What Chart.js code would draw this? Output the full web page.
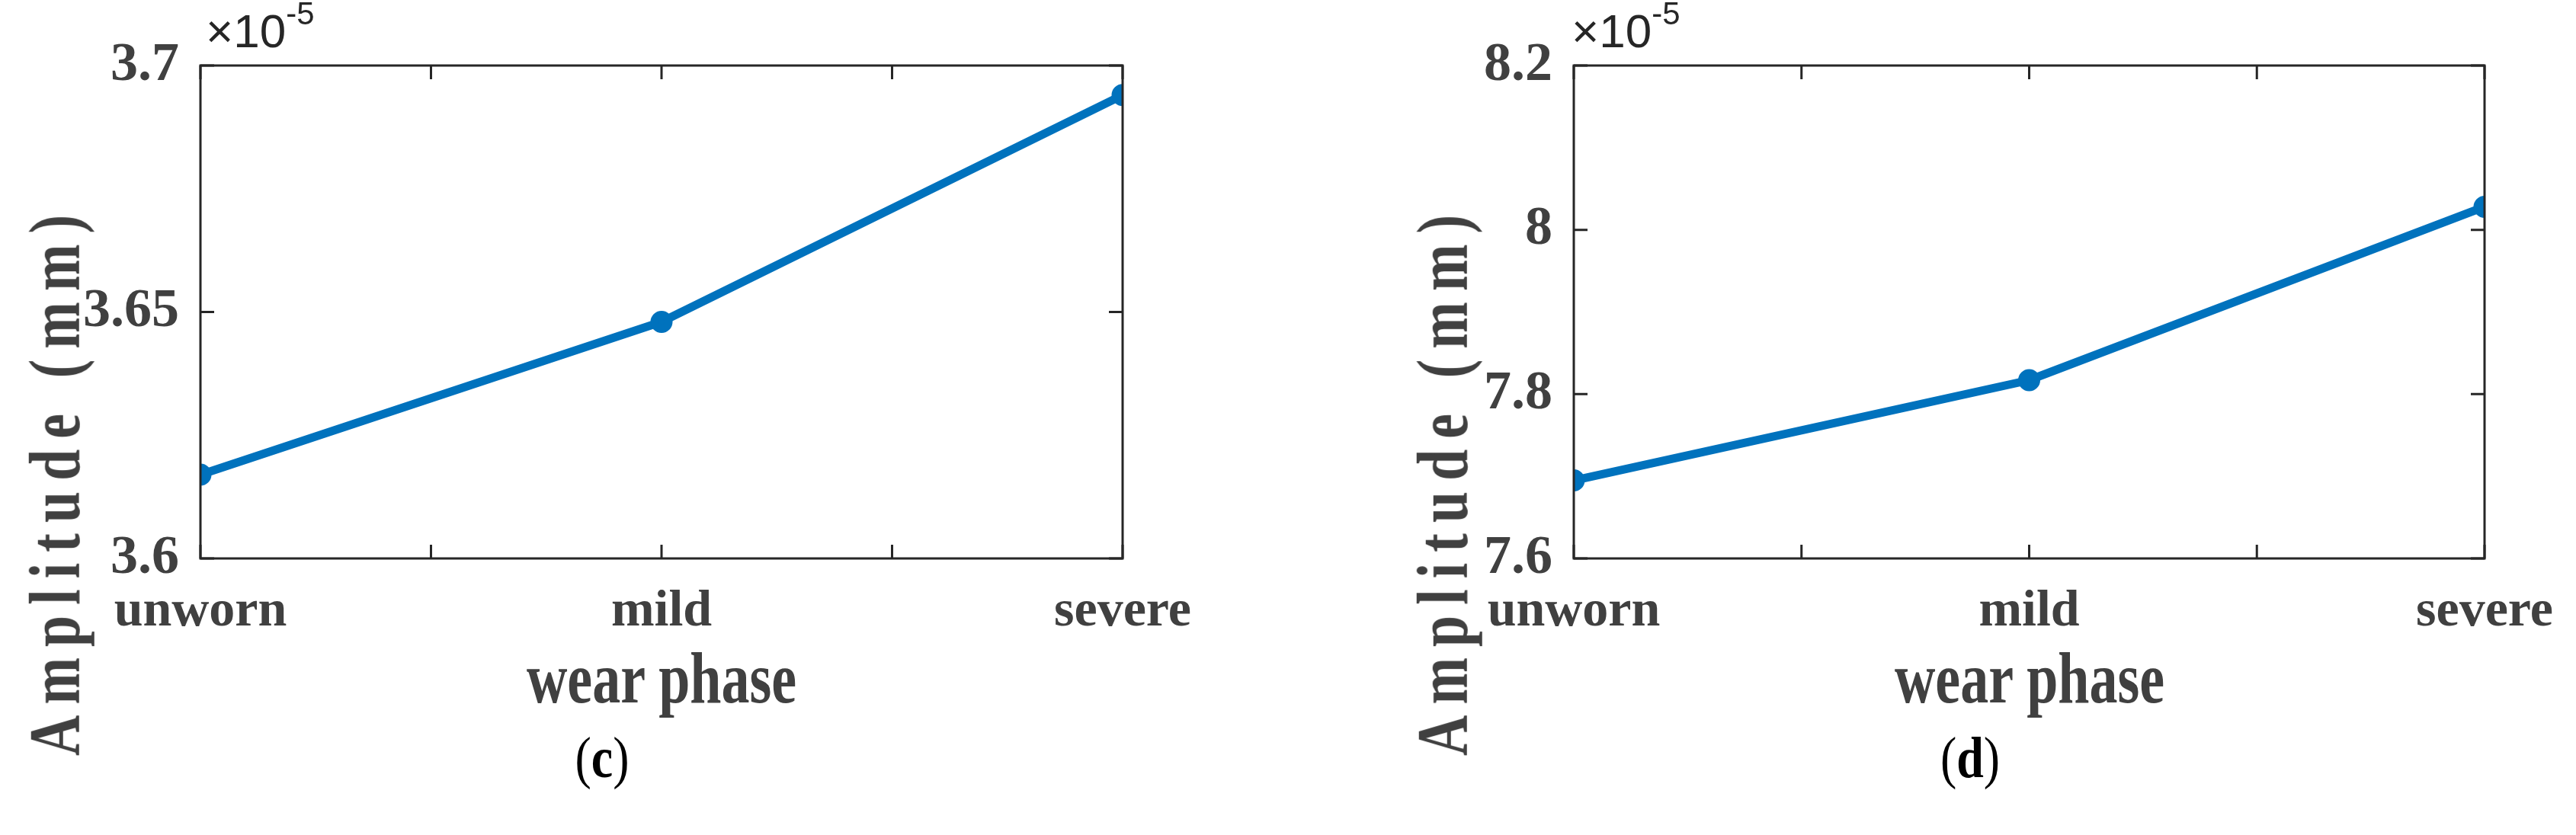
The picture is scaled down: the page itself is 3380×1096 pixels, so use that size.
<!DOCTYPE html><html><head><meta charset="utf-8">
<script src="https://cdn.jsdelivr.net/npm/chart.js@4"></script>
<style>
body{margin:0;background:#fff;width:3380px;height:1096px;position:relative;overflow:hidden;font-family:"Liberation Serif",serif;color:#404040}
canvas{position:absolute;top:0}
.t{position:absolute;font-weight:bold;font-size:74px;white-space:nowrap;transform:translate(-50%,-50%) scaleY(1.3)}
.yt{transform:translate(-50%,-50%) rotate(-90deg) scaleY(1.3);letter-spacing:14px}
.ex{position:absolute;font-family:"Liberation Sans",sans-serif;font-size:62px;color:#262626;white-space:nowrap}
.cap{position:absolute;font-size:64px;color:#000;transform:translate(-50%,-50%) scaleY(1.2)}
</style></head><body>
<div id="w1" style="position:absolute;left:0;top:0;width:1690px;height:1096px"><canvas id="c1"></canvas></div>
<div id="w2" style="position:absolute;left:1690px;top:0;width:1690px;height:1096px"><canvas id="c2"></canvas></div>
<div class="t yt" style="left:72px;top:630px">Amplitude (mm)</div>
<div class="t yt" style="left:1893px;top:630px">Amplitude (mm)</div>
<div class="t" style="left:868px;top:890px">wear phase</div>
<div class="t" style="left:2663px;top:890px">wear phase</div>
<div class="ex" style="left:270px;top:2px">×10<sup style="font-size:42px;position:relative;top:-8px">-5</sup></div>
<div class="ex" style="left:2062px;top:2px">×10<sup style="font-size:42px;position:relative;top:-8px">-5</sup></div>
<div class="cap" style="left:790px;top:995px">(<b>c</b>)</div>
<div class="cap" style="left:2585px;top:995px">(<b>d</b>)</div>
<script>
const categories=['unworn','mild','severe'];
const seriesC=[3.617,3.648,3.694];
const seriesD=[7.695,7.817,8.028];
const yTicksC=[3.6,3.65,3.7];
const yTicksD=[7.6,7.8,8.0,8.2];
const xTickPos=[0,0.5,1,1.5,2];

const inTicks={id:'inTicks',afterDraw(ch){const {ctx,chartArea:a,scales:{x,y}}=ch;ctx.save();ctx.strokeStyle='#262626';ctx.lineWidth=3;
ctx.strokeRect(a.left,a.top,a.right-a.left,a.bottom-a.top);const L=18;ctx.beginPath();
xTickPos.forEach(v=>{const px=x.getPixelForValue(v);ctx.moveTo(px,a.bottom);ctx.lineTo(px,a.bottom-L);ctx.moveTo(px,a.top);ctx.lineTo(px,a.top+L);});
y.ticks.forEach(t=>{const py=y.getPixelForValue(t.value);ctx.moveTo(a.left,py);ctx.lineTo(a.left+L,py);ctx.moveTo(a.right,py);ctx.lineTo(a.right-L,py);});
ctx.stroke();ctx.restore();}};

function mk(id,data,yt,padL,yW,padR){
 const fx={family:'Liberation Serif',weight:'bold',size:68};
 const fy={family:'Liberation Serif',weight:'bold',size:72};
 new Chart(document.getElementById(id),{type:'line',
 data:{datasets:[{data:data.map((v,i)=>({x:i,y:v})),borderColor:'#0072BD',backgroundColor:'#0072BD',borderWidth:11,pointRadius:9,pointStyle:'circle'}]},
 options:{responsive:true,maintainAspectRatio:false,animation:false,
  layout:{padding:{left:padL,right:padR,top:86,bottom:0}},
  plugins:{legend:{display:false},tooltip:{enabled:false}},
  scales:{
   x:{type:'linear',min:0,max:2,afterFit:s=>{s.height=363},grid:{display:false},border:{display:false},
      afterBuildTicks:s=>{s.ticks=xTickPos.map(v=>({value:v}))},
      ticks:{autoSkip:false,maxRotation:0,padding:22,color:'#404040',font:fx,callback:v=>Number.isInteger(v)?categories[v]:''}},
   y:{min:yt[0],max:yt[yt.length-1],afterFit:s=>{s.width=yW},grid:{display:false},border:{display:false},
      afterBuildTicks:s=>{s.ticks=yt.map(v=>({value:v}))},
      ticks:{padding:20,color:'#404040',font:fy,callback:v=>String(+v.toFixed(2))}}}},
 plugins:[inTicks]});
}
mk('c1',seriesC,yTicksC,0,263,217);
mk('c2',seriesD,yTicksD,130,245,120);
</script></body></html>
